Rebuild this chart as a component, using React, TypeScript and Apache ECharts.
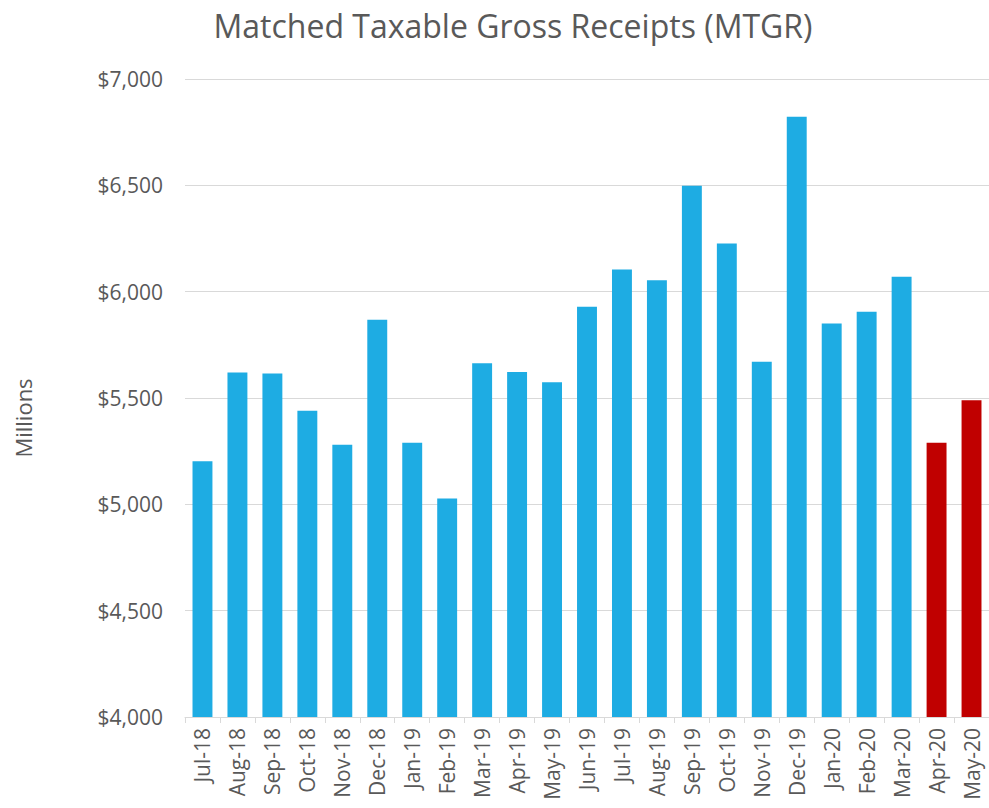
import React, { useEffect, useRef } from "react";
import * as echarts from "echarts";

const categories = [
  "Jul-18", "Aug-18", "Sep-18", "Oct-18", "Nov-18", "Dec-18", "Jan-19", "Feb-19",
  "Mar-19", "Apr-19", "May-19", "Jun-19", "Jul-19", "Aug-19", "Sep-19", "Oct-19",
  "Nov-19", "Dec-19", "Jan-20", "Feb-20", "Mar-20", "Apr-20", "May-20",
];
const values = [
  5203, 5620, 5615, 5440, 5280, 5868, 5290, 5027,
  5663, 5622, 5574, 5929, 6104, 6054, 6498, 6226,
  5670, 6822, 5850, 5905, 6070, 5289, 5490,
];
const highlighted = ["Apr-20", "May-20"];
const title = "Matched Taxable Gross Receipts (MTGR)";
const yAxisName = "Millions";

export default function App() {
  const ref = useRef<HTMLDivElement>(null);
  useEffect(() => {
    if (!ref.current) return;
    const chart = echarts.init(ref.current, null, { renderer: "svg" });
    const font = "'Open Sans', sans-serif";
    chart.setOption({
      animation: false,
      textStyle: { fontFamily: font },
      title: {
        text: title,
        left: 508,
        top: 4,
        textAlign: "center",
        textStyle: { fontFamily: font, fontSize: 32, fontWeight: "normal", color: "#595959" },
      },
      graphic: [
        {
          type: "text",
          x: 23,
          y: 418,
          rotation: Math.PI / 2,
          style: {
            text: yAxisName,
            fontFamily: font,
            fontSize: 22,
            fill: "#595959",
            textAlign: "center",
            textVerticalAlign: "middle",
          },
        },
      ],
      grid: { left: 185, top: 79, width: 813, height: 638 },
      xAxis: {
        type: "category",
        data: categories,
        axisLine: { lineStyle: { color: "#d9d9d9", width: 1 } },
        axisTick: { show: true, length: 6, lineStyle: { color: "#d9d9d9" } },
        axisLabel: { rotate: 90, fontSize: 21, color: "#595959", margin: 11, fontFamily: font },
      },
      yAxis: {
        type: "value",
        min: 4000,
        max: 7000,
        interval: 500,
        axisLine: { show: false },
        axisTick: { show: false },
        splitLine: { lineStyle: { color: "#d9d9d9", width: 1 } },
        axisLabel: {
          fontSize: 21,
          color: "#595959",
          margin: 22,
          fontFamily: font,
          formatter: (v: number) => "$" + v.toLocaleString("en-US"),
        },
      },
      series: [
        {
          type: "bar",
          barWidth: "57%",
          data: categories.map((c, i) => ({
            value: values[i],
            itemStyle: { color: highlighted.includes(c) ? "#C00000" : "#1EACE3" },
          })),
        },
      ],
    });
    return () => chart.dispose();
  }, []);
  return (
    <div
      ref={ref}
      style={{ position: "fixed", left: 0, top: 0, width: 989, height: 808, background: "#fff" }}
    />
  );
}
